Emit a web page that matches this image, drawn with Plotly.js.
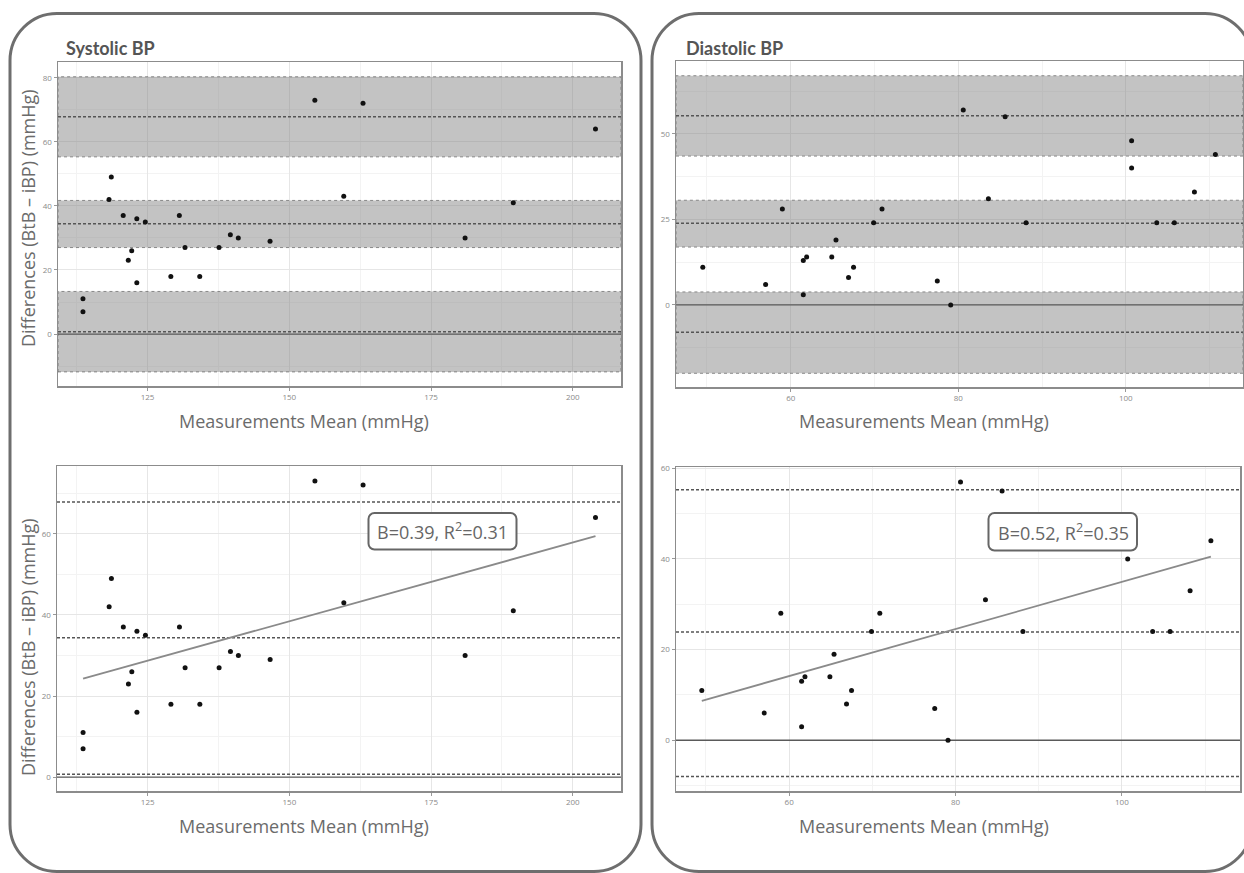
<!DOCTYPE html>
<html><head><meta charset="utf-8">
<script src="https://cdn.plot.ly/plotly-3.0.1.min.js"></script>
<style>html,body{margin:0;padding:0;background:#fff}#chart{width:1244px;height:873px}</style>
</head><body><div id="chart"></div>
<script>
// ---- Systolic BP data ----
const sysMean = [154.5, 163.0, 204.0, 159.6, 189.5, 181.0, 118.6, 118.2, 120.7, 123.1, 124.6, 130.6, 122.2, 121.6, 123.1, 131.6, 129.1, 134.2, 137.6, 139.6, 141.0, 146.6, 113.6, 113.6];
const sysDiff = [73, 72, 64, 43, 41, 30, 49, 42, 37, 36, 35, 37, 26, 23, 16, 27, 18, 18, 27, 31, 30, 29, 11, 7];
const sysBias = 34.4;
const sysLoA = [0.7, 67.8];
const sysBiasCI = [27.0, 41.7];
const sysLowerCI = [-11.8, 13.3];
const sysUpperCI = [55.3, 80.3];
const sysFitX = [113.6, 204.0];
const sysFitY = [24.3, 59.4];
const sysLabel = 'B=0.39, R<sup>2</sup>=0.31';

// ---- Diastolic BP data ----
const diaMean = [59.0, 70.9, 80.6, 85.6, 100.7, 110.7, 100.7, 108.2, 83.6, 88.1, 103.7, 105.8, 77.5, 79.1, 49.5, 57.0, 61.5, 61.9, 61.5, 64.9, 65.4, 66.9, 67.5, 69.9];
const diaDiff = [28, 28, 57, 55, 48, 44, 40, 33, 31, 24, 24, 24, 7, 0, 11, 6, 13, 14, 3, 14, 19, 8, 11, 24];
const diaBias = 23.9;
const diaLoA = [-8.0, 55.3];
const diaBiasCI = [16.9, 30.6];
const diaLowerCI = [-20.0, 3.8];
const diaUpperCI = [43.5, 67.0];
const diaFitX = [49.5, 110.7];
const diaFitY = [8.7, 40.5];
const diaLabel = 'B=0.52, R<sup>2</sup>=0.35';

const panelTitles = ['Systolic BP', 'Diastolic BP'];
const xTitle = 'Measurements Mean (mmHg)';
const yTitle = 'Differences (BtB \u2013 iBP) (mmHg)';

// axis ranges
const xr1 = [109.2, 208.5], yr1 = [-16.2, 84.9];
const xr2 = [109.0, 208.5], yr2 = [-3.4, 76.7];
const xr3 = [46.3, 114.0], yr3 = [-24.0, 71.3];
const xr4 = [46.4, 114.2], yr4 = [-11.2, 60.3];

// ---- helpers ----
const W = 1244, H = 873;
const px = x => x / W, py = y => 1 - y / H;
function roundRect(x0, y0, x1, y1, r) {
  const k = 0.5523 * r;
  const P = (x, y) => px(x).toFixed(5) + ',' + py(y).toFixed(5);
  return 'M ' + P(x0 + r, y0) + ' L ' + P(x1 - r, y0) +
    ' C ' + P(x1 - r + k, y0) + ' ' + P(x1, y0 + r - k) + ' ' + P(x1, y0 + r) +
    ' L ' + P(x1, y1 - r) +
    ' C ' + P(x1, y1 - r + k) + ' ' + P(x1 - r + k, y1) + ' ' + P(x1 - r, y1) +
    ' L ' + P(x0 + r, y1) +
    ' C ' + P(x0 + r - k, y1) + ' ' + P(x0, y1 - r + k) + ' ' + P(x0, y1 - r) +
    ' L ' + P(x0, y0 + r) +
    ' C ' + P(x0, y0 + r - k) + ' ' + P(x0 + r - k, y0) + ' ' + P(x0 + r, y0) + ' Z';
}

const DASH = '3px,2px';
function subplotShapes(xa, ya, xr, bands, lines) {
  const s = [];
  bands.forEach(b => s.push({type: 'rect', xref: xa, yref: ya, x0: xr[0], x1: xr[1], y0: b[0], y1: b[1],
    fillcolor: 'rgba(128,128,128,0.47)', line: {color: 'rgba(100,100,100,0.7)', width: 1, dash: 'dot'}, layer: 'between'}));
  s.push({type: 'line', xref: xa, yref: ya, x0: xr[0], x1: xr[1], y0: 0, y1: 0,
    line: {color: '#5a5a5a', width: 1.3}, layer: 'between'});
  lines.forEach(v => s.push({type: 'line', xref: xa, yref: ya, x0: xr[0], x1: xr[1], y0: v, y1: v,
    line: {color: '#555', width: 1.5, dash: DASH}, layer: 'between'}));
  return s;
}

const shapes = [].concat(
  [{type: 'path', xref: 'paper', yref: 'paper', path: roundRect(10, 13.5, 641, 871.5, 47), line: {color: '#6e6e6e', width: 3}, layer: 'below'},
   {type: 'path', xref: 'paper', yref: 'paper', path: roundRect(652, 13.5, 1252, 871.5, 47), line: {color: '#6e6e6e', width: 3}, layer: 'below'}],
  subplotShapes('x', 'y', xr1, [sysUpperCI, sysBiasCI, sysLowerCI], [sysBias, sysLoA[0], sysLoA[1]]),
  subplotShapes('x2', 'y2', xr2, [], [sysBias, sysLoA[0], sysLoA[1]]),
  subplotShapes('x3', 'y3', xr3, [diaUpperCI, diaBiasCI, diaLowerCI], [diaBias, diaLoA[0], diaLoA[1]]),
  subplotShapes('x4', 'y4', xr4, [], [diaBias, diaLoA[0], diaLoA[1]]),
  [{type: 'path', xref: 'paper', yref: 'paper', path: roundRect(368.5, 513, 516.5, 549.5, 6), line: {color: '#666', width: 2}, fillcolor: 'white', layer: 'above'},
   {type: 'path', xref: 'paper', yref: 'paper', path: roundRect(988.5, 513, 1137, 550.5, 6), line: {color: '#666', width: 2}, fillcolor: 'white', layer: 'above'}]
);

const mk = {color: '#111', size: 5};
const traces = [
  {x: sysMean, y: sysDiff, xaxis: 'x', yaxis: 'y', type: 'scatter', mode: 'markers', marker: mk},
  {x: sysFitX, y: sysFitY, xaxis: 'x2', yaxis: 'y2', type: 'scatter', mode: 'lines', line: {color: '#8a8a8a', width: 1.8}},
  {x: sysMean, y: sysDiff, xaxis: 'x2', yaxis: 'y2', type: 'scatter', mode: 'markers', marker: mk},
  {x: diaMean, y: diaDiff, xaxis: 'x3', yaxis: 'y3', type: 'scatter', mode: 'markers', marker: mk},
  {x: diaFitX, y: diaFitY, xaxis: 'x4', yaxis: 'y4', type: 'scatter', mode: 'lines', line: {color: '#8a8a8a', width: 1.8}},
  {x: diaMean, y: diaDiff, xaxis: 'x4', yaxis: 'y4', type: 'scatter', mode: 'markers', marker: mk}
];

function ax(domain, range, dtick, anchor) {
  return {domain: domain, range: range, anchor: anchor, dtick: dtick, tick0: 0,
    showgrid: true, gridcolor: '#e6e6e6', gridwidth: 1,
    minor: {showgrid: true, dtick: dtick / 2, tick0: 0, gridcolor: '#f3f3f3', gridwidth: 1},
    zeroline: false, showline: true, mirror: true, linecolor: '#8c8c8c', linewidth: 1.5,
    ticks: 'outside', ticklen: 3, tickcolor: '#999', tickwidth: 1,
    tickfont: {family: 'Open Sans, sans-serif', size: 8, color: '#8a8a8a'}, fixedrange: true};
}

const tf = {family: 'Open Sans, sans-serif', size: 18, color: '#6b6b6b'};
const annotations = [
  {text: '<b>' + panelTitles[0] + '</b>', xref: 'paper', yref: 'paper', x: px(64), y: py(48), xanchor: 'left', yanchor: 'middle', showarrow: false, font: {family: 'Lato, sans-serif', size: 18, color: '#555'}},
  {text: '<b>' + panelTitles[1] + '</b>', xref: 'paper', yref: 'paper', x: px(684), y: py(48), xanchor: 'left', yanchor: 'middle', showarrow: false, font: {family: 'Lato, sans-serif', size: 18, color: '#555'}},
  {text: xTitle, xref: 'paper', yref: 'paper', x: px(304), y: py(421), xanchor: 'center', yanchor: 'middle', showarrow: false, font: tf},
  {text: xTitle, xref: 'paper', yref: 'paper', x: px(304), y: py(826), xanchor: 'center', yanchor: 'middle', showarrow: false, font: tf},
  {text: xTitle, xref: 'paper', yref: 'paper', x: px(923.5), y: py(421), xanchor: 'center', yanchor: 'middle', showarrow: false, font: tf},
  {text: xTitle, xref: 'paper', yref: 'paper', x: px(924), y: py(826), xanchor: 'center', yanchor: 'middle', showarrow: false, font: tf},
  {text: yTitle, xref: 'paper', yref: 'paper', x: px(28), y: py(218), textangle: -90, xanchor: 'center', yanchor: 'middle', showarrow: false, font: {family: 'Open Sans, sans-serif', size: 18, color: '#6b6b6b'}},
  {text: yTitle, xref: 'paper', yref: 'paper', x: px(28), y: py(647), textangle: -90, xanchor: 'center', yanchor: 'middle', showarrow: false, font: {family: 'Open Sans, sans-serif', size: 18, color: '#6b6b6b'}},
  {text: sysLabel, xref: 'paper', yref: 'paper', x: px(442.5), y: py(531), xanchor: 'center', yanchor: 'middle', showarrow: false, font: {family: 'Open Sans, sans-serif', size: 18, color: '#666'}},
  {text: diaLabel, xref: 'paper', yref: 'paper', x: px(1063), y: py(532), xanchor: 'center', yanchor: 'middle', showarrow: false, font: {family: 'Open Sans, sans-serif', size: 18, color: '#666'}}
];

const layout = {
  width: W, height: H, margin: {l: 0, r: 0, t: 0, b: 0},
  paper_bgcolor: 'white', plot_bgcolor: 'white', showlegend: false,
  xaxis: ax([px(58), px(621)], xr1, 25, 'y'),
  yaxis: ax([py(386), py(62)], yr1, 20, 'x'),
  xaxis2: ax([px(57), px(621)], xr2, 25, 'y2'),
  yaxis2: ax([py(791), py(466)], yr2, 20, 'x2'),
  xaxis3: ax([px(676), px(1243)], xr3, 20, 'y3'),
  yaxis3: ax([py(387), py(61)], yr3, 25, 'x3'),
  xaxis4: ax([px(676), px(1240)], xr4, 20, 'y4'),
  yaxis4: ax([py(791), py(467)], yr4, 20, 'x4'),
  shapes: shapes, annotations: annotations
};

Plotly.newPlot('chart', traces, layout, {staticPlot: true, displayModeBar: false});
</script></body></html>
